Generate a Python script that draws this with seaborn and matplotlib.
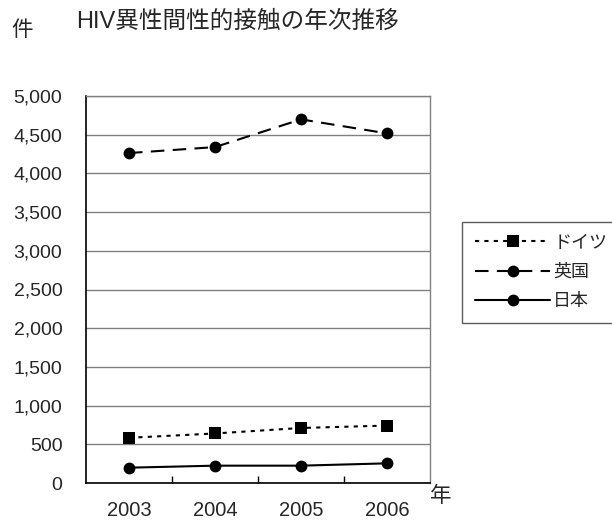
import pandas as pd
import matplotlib
matplotlib.use("Agg")
import matplotlib.pyplot as plt
import seaborn as sns

# values
years = ["2003", "2004", "2005", "2006"]
germany = [584, 640, 711, 742]
uk = [4263, 4340, 4698, 4517]
japan = [198, 224, 224, 254]
series_names = ["ドイツ", "英国", "日本"]
y_ticks = [0, 500, 1000, 1500, 2000, 2500, 3000, 3500, 4000, 4500, 5000]


def build_frame():
    rows = []
    for name, vals in zip(series_names, [germany, uk, japan]):
        for i, v in enumerate(vals):
            rows.append({"pos": i, "件数": v, "国": name})
    return pd.DataFrame(rows)


def main():
    sns.set_theme(style="white")
    plt.rcParams["font.family"] = ["Liberation Sans", "Noto Sans CJK JP", "DejaVu Sans"]

    W, H = 612, 524
    fig = plt.figure(figsize=(W / 100, H / 100), dpi=100)
    ax = fig.add_axes([86 / W, (H - 483) / H, 344 / W, 387 / H])

    df = build_frame()
    sns.lineplot(
        data=df, x="pos", y="件数", style="国", style_order=series_names,
        markers={"ドイツ": "s", "英国": "o", "日本": "o"},
        dashes={"ドイツ": (2, 2.5), "英国": (6.5, 4), "日本": ""},
        color="black", linewidth=1.5, markersize=8.5, markeredgewidth=0,
        ax=ax, legend=False,
    )

    ax.set_xlim(-0.5, 3.5)
    ax.set_ylim(0, 5000)
    ax.set_yticks(y_ticks)
    ax.set_yticklabels([f"{v:,}" for v in y_ticks])
    ax.set_xticks(range(len(years)))
    ax.set_xticklabels(years)
    ax.set_xticks([0.5, 1.5, 2.5], minor=True)
    ax.set_xlabel("")
    ax.set_ylabel("")

    ax.yaxis.grid(True, color="#808080", linewidth=1)
    ax.set_axisbelow(True)
    for side in ["top", "right"]:
        ax.spines[side].set_color("#808080")
        ax.spines[side].set_linewidth(1)
    for side in ["left", "bottom"]:
        ax.spines[side].set_color("black")
        ax.spines[side].set_linewidth(1.2)

    ax.tick_params(axis="y", which="major", direction="out", length=4,
                   width=1, color="black", labelsize=14, pad=13)
    ax.tick_params(axis="x", which="major", length=0, labelsize=14.5, pad=13)
    ax.tick_params(axis="x", which="minor", direction="in", length=5,
                   width=1, color="black", bottom=True)

    # legend built from the same styles
    handles = [
        plt.Line2D([], [], color="black", linestyle=(0, (2, 2.5)), linewidth=1.5,
                   marker="s", markersize=8.5, markeredgewidth=0),
        plt.Line2D([], [], color="black", linestyle=(0, (6.5, 4)), linewidth=1.5,
                   marker="o", markersize=8.5, markeredgewidth=0),
        plt.Line2D([], [], color="black", linestyle="-", linewidth=1.5,
                   marker="o", markersize=8.5, markeredgewidth=0),
    ]
    leg = ax.legend(handles, series_names, loc="upper left",
                    bbox_to_anchor=(1.093, 0.674), borderaxespad=0,
                    fontsize=13, handlelength=4.2, handletextpad=0.15,
                    labelspacing=0.68, borderpad=0.7, frameon=True,
                    fancybox=False)
    leg.get_frame().set_edgecolor("#333333")
    leg.get_frame().set_linewidth(1)

    fig.text(22 / W, 1 - 30 / H, "件", fontsize=15.5, ha="center", va="center")
    fig.text(76 / W, 1 - 22 / H, "HIV異性間性的接触の年次推移", fontsize=17,
             ha="left", va="center")
    fig.text(441 / W, 1 - 497 / H, "年", fontsize=15.5, ha="center", va="center")

    fig.savefig("out.png", dpi=100)


if __name__ == "__main__":
    main()
